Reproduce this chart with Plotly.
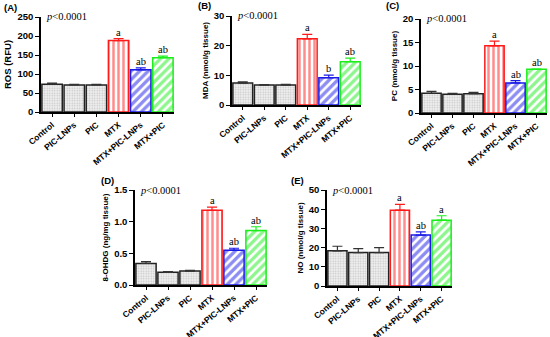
import plotly.graph_objects as go

categories = ["Control", "PIC-LNPs", "PIC", "MTX", "MTX+PIC-LNPs", "MTX+PIC"]

ros = [73, 71, 71, 188, 111, 143]
ros_err = [3, 2, 2, 5, 5, 4]
ros_sig = ["", "", "", "a", "ab", "ab"]

mda = [7.4, 6.7, 6.7, 22.3, 9.2, 14.6]
mda_err = [0.4, 0.2, 0.3, 1.5, 0.9, 1.2]
mda_sig = ["", "", "", "a", "b", "ab"]

pc = [4.2, 4.0, 4.1, 14.3, 6.4, 9.3]
pc_err = [0.4, 0.2, 0.3, 1.0, 0.5, 0.05]
pc_sig = ["", "", "", "a", "ab", "ab"]

ohdg = [0.34, 0.20, 0.22, 1.18, 0.55, 0.86]
ohdg_err = [0.03, 0.01, 0.01, 0.05, 0.03, 0.06]
ohdg_sig = ["", "", "", "a", "ab", "ab"]

no = [18.3, 17.4, 17.4, 39.5, 26.5, 34.3]
no_err = [2.4, 2.1, 2.6, 3.0, 1.7, 2.3]
no_sig = ["", "", "", "a", "ab", "a"]

panels = [
    dict(label="(A)", vals=ros, errs=ros_err, sig=ros_sig, title="ROS (RFU)", ymax=250, dtick=50,
         px=(41, 174), py=(17, 112), lab=(2, 7), tfs=9.5),
    dict(label="(B)", vals=mda, errs=mda_err, sig=mda_sig, title="MDA (nmol/g tissue)", ymax=30, dtick=10,
         px=(232, 361), py=(16, 105), lab=(196, 6), tfs=8),
    dict(label="(C)", vals=pc, errs=pc_err, sig=pc_sig, title="PC (nmol/g tissue)", ymax=20, dtick=5,
         px=(421, 547), py=(19, 113), lab=(384, 6), tfs=8),
    dict(label="(D)", vals=ohdg, errs=ohdg_err, sig=ohdg_sig, title="8-OHDG (ng/mg tissue)", ymax=1.5, dtick=0.5,
         px=(135, 267), py=(190, 285), lab=(99, 180), tfs=8, tickfmt=".1f"),
    dict(label="(E)", vals=no, errs=no_err, sig=no_sig, title="NO (nmol/g tissue)", ymax=50, dtick=10,
         px=(327, 452), py=(190, 286), lab=(289, 180), tfs=8),
]

W, H = 550, 337
gray = dict(fill="#efefef", fg="#9a9a9a", bg="#efefef", shape=".", size=2.5, sol=0.3, line="#222222", err="#333333")
styles = [
    gray, gray, gray,
    dict(fill="white", fg="#ff1a1a", bg="white", shape="|", size=5, sol=0.5, line="#ff1a1a", err="#ff1a1a"),
    dict(fill="white", fg="#1a1ae6", bg="white", shape="/", size=6, sol=0.55, line="#1a1ae6", err="#1a1ae6"),
    dict(fill="white", fg="#1aee1a", bg="white", shape="/", size=6, sol=0.55, line="#1aee1a", err="#1aee1a"),
]

fig = go.Figure()
layout = dict(width=W, height=H, margin=dict(l=0, r=0, t=0, b=0, autoexpand=False), paper_bgcolor="white",
              plot_bgcolor="rgba(0,0,0,0)", showlegend=False, barmode="overlay")
annotations = []
for i, p in enumerate(panels):
    n = i + 1
    xa = "x" if n == 1 else f"x{n}"
    ya = "y" if n == 1 else f"y{n}"
    for j, c in enumerate(categories):
        s = styles[j]
        fig.add_trace(go.Bar(
            x=[c], y=[p["vals"][j]], xaxis=xa, yaxis=ya, width=0.92,
            marker=dict(color=s["fill"], line=dict(color=s["line"], width=1.5),
                        pattern=dict(shape=s["shape"], fgcolor=s["fg"], bgcolor=s["bg"],
                                     size=s["size"], solidity=s["sol"], fillmode="overlay")),
            error_y=dict(type="data", symmetric=False, array=[p["errs"][j]], arrayminus=[0],
                         color=s["err"], thickness=1.2, width=5),
        ))
        if p["sig"][j]:
            annotations.append(dict(x=c, y=p["vals"][j] + p["errs"][j], xref=xa, yref=ya,
                                    text=p["sig"][j], showarrow=False, yanchor="bottom", yshift=-1,
                                    font=dict(family="Liberation Serif", size=10.5, color="black")))
    x0, x1 = p["px"]
    y0, y1 = p["py"]
    layout["xaxis" if n == 1 else f"xaxis{n}"] = dict(
        domain=[x0 / W, x1 / W], anchor=ya, type="category", categoryorder="array",
        categoryarray=categories, range=[-0.5, 5.5], tickangle=-40, showline=True,
        linecolor="black", linewidth=1.5, ticks="outside", ticklen=3, tickcolor="black",
        tickfont=dict(family="Liberation Sans", size=8.5, color="black", weight="bold"),
        showgrid=False, zeroline=False, fixedrange=True, automargin=False)
    ya_dict = dict(
        domain=[1 - y1 / H, 1 - y0 / H], anchor=xa, range=[0, p["ymax"]], dtick=p["dtick"],
        tick0=0, showline=True, linecolor="black", linewidth=1.5, ticks="outside", ticklen=4,
        tickcolor="black", showgrid=False, zeroline=False, automargin=False,
        tickfont=dict(family="Liberation Sans", size=9.5, color="black", weight="bold"),
        title=dict(text=p["title"], standoff=4,
                   font=dict(family="Liberation Sans", size=p["tfs"], color="black", weight="bold")))
    if "tickfmt" in p:
        ya_dict["tickformat"] = p["tickfmt"]
    layout["yaxis" if n == 1 else f"yaxis{n}"] = ya_dict
    annotations.append(dict(x=p["lab"][0] / W, y=1 - p["lab"][1] / H, xref="paper", yref="paper",
                            text="<b>" + p["label"] + "</b>", showarrow=False, xanchor="left",
                            yanchor="middle",
                            font=dict(family="Liberation Sans", size=9.5, color="black")))
    annotations.append(dict(x=0.02, y=1, xref=f"{xa} domain", yref=f"{ya} domain",
                            text="<i>p</i><0.0001", showarrow=False, xanchor="left", yanchor="middle",
                            font=dict(family="Liberation Serif", size=10.5, color="black")))

layout["annotations"] = annotations
fig.update_layout(**layout)
fig.write_html("out.html", config={"displayModeBar": False},
               post_script="document.body.style.margin='0';")
